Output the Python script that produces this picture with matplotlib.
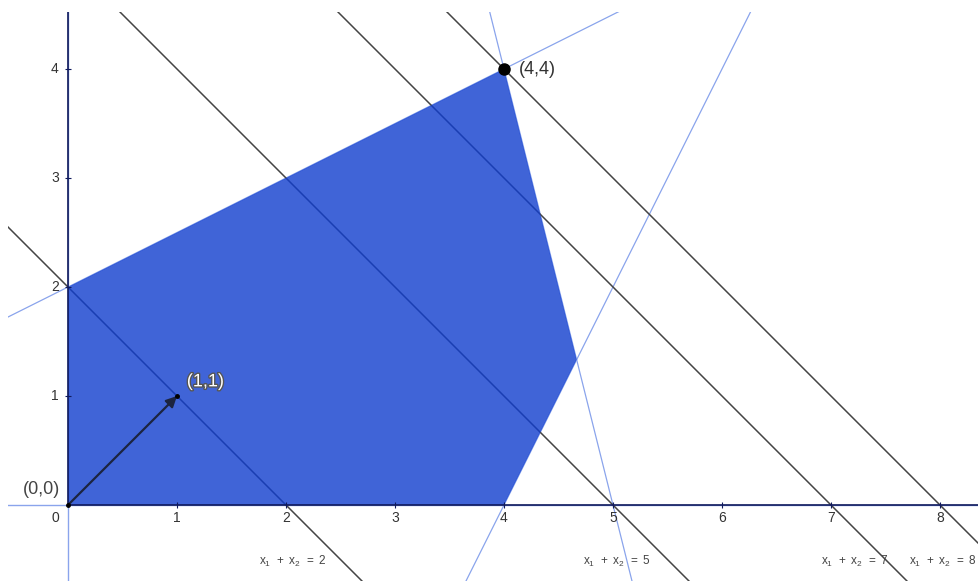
import matplotlib.pyplot as plt
import matplotlib.patheffects as pe
import numpy as np

plt.rcParams["font.family"] = ["Liberation Sans", "DejaVu Sans"]

# constraints a1*x1 + a2*x2 <= b (besides x1, x2 >= 0)
con_a1 = [-1, 2, 4]
con_a2 = [2, -1, 1]
con_b = [4, 8, 20]

# feasible region corners
region_x = [0, 4, 14 / 3, 4, 0]
region_y = [0, 0, 4 / 3, 4, 2]

# objective x1 + x2 = c
levels = [2, 5, 7, 8]
level_label_x = [2.06, 5.04, 7.22, 8.03]

opt_x, opt_y = 4, 4
grad_x, grad_y = 1, 1

xticks = [1, 2, 3, 4, 5, 6, 7, 8]
yticks = [1, 2, 3, 4]

XLIM = (-0.5505, 8.358)
YLIM = (-0.697, 4.523)

fig = plt.figure(figsize=(9.79, 5.81), dpi=100)
ax = fig.add_axes([8 / 979, 0, 971 / 979, 569 / 581])
ax.set_xlim(*XLIM)
ax.set_ylim(*YLIM)
ax.axis("off")

xs = np.array([-1.0, 9.0])
light = "#8aa4ec"
gray = "#444444"
navy = "#101a5c"

# light blue constraint lines (full)
for a1, a2, b in zip(con_a1, con_a2, con_b):
    ax.plot(xs, (b - a1 * xs) / a2, color=light, lw=0.9, zorder=1)
ax.axhline(0, color=light, lw=1.0, zorder=1)
ax.axvline(0, color=light, lw=1.0, zorder=1)

# objective level lines
for c in levels:
    ax.plot(xs, c - xs, color=gray, lw=1.1, zorder=2)

# feasible region drawn over the lines
ax.fill(region_x, region_y, color="#103dce", alpha=0.8, lw=0, zorder=3)

# nonnegativity rays
ax.plot([0, XLIM[1] + 1], [0, 0], color=navy, lw=1.2, zorder=4)
ax.plot([0, 0], [0, YLIM[1] + 1], color=navy, lw=1.2, zorder=4)

# ticks and labels
ax.plot(xticks, np.zeros(len(xticks)), ls="none", marker="|", ms=4, mew=0.8, color=navy, zorder=4)
ax.plot(np.zeros(len(yticks)), yticks, ls="none", marker="_", ms=4, mew=0.8, color=navy, zorder=4)
for t in xticks:
    ax.text(t, -0.12, str(t), ha="center", va="center", fontsize=10, color="#333333")
for t in yticks:
    ax.text(-0.12, t, str(t), ha="center", va="center", fontsize=10, color="#333333")
ax.text(-0.12, -0.12, "0", ha="center", va="center", fontsize=10, color="#333333")

for c, lx in zip(levels, level_label_x):
    ax.text(lx, -0.52, rf"$\mathregular{{x_1\ +\ x_2\ =\ {c}}}$", ha="center", va="center",
            fontsize=8.5, color="#444444")

# gradient arrow
ax.annotate("", xy=(grad_x, grad_y), xytext=(0, 0),
            arrowprops=dict(arrowstyle="-|>", color="#1c2440", lw=1.6, mutation_scale=16,
                            shrinkA=0, shrinkB=0), zorder=5)
ax.plot([0, grad_x], [0, grad_y], ls="none", marker="o", ms=2.5, color="black", zorder=6)
ax.text(grad_x + 0.26, grad_y + 0.13, f"({grad_x},{grad_y})", ha="center", va="center",
        fontsize=13, color="white", zorder=6,
        path_effects=[pe.withStroke(linewidth=2, foreground="#555555")])
ax.text(-0.24, 0.14, "(0,0)", ha="center", va="center", fontsize=13, color="#444444")

# optimum
ax.plot([opt_x], [opt_y], ls="none", marker="o", ms=8, color="black", zorder=6)
ax.text(opt_x + 0.14, opt_y, f"({opt_x},{opt_y})", ha="left", va="center",
        fontsize=13, color="#333333")

fig.savefig("out.png", dpi=100)
